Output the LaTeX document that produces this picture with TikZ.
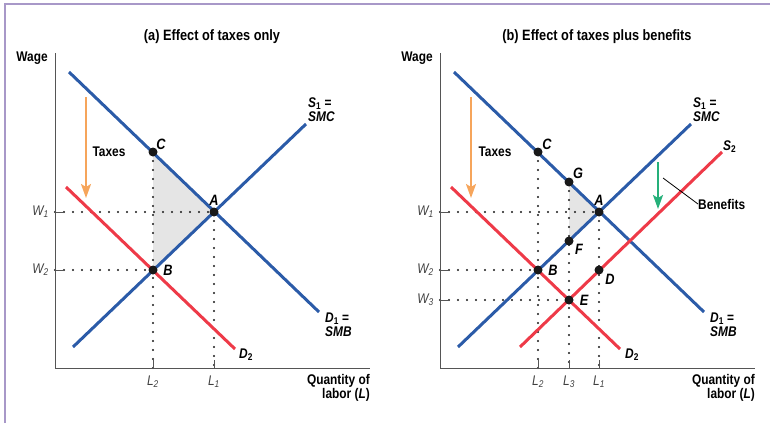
\documentclass[tikz,border=0pt]{standalone}
\usepackage{fontspec}
\setmainfont{Liberation Sans}[FakeStretch=0.85]
\usetikzlibrary{positioning, arrows.meta}
\usepackage{xcolor}

\definecolor{curveblue}{HTML}{2B5BA8}
\definecolor{curvered}{HTML}{EE3A48}
\definecolor{taxorange}{HTML}{F6A55B}
\definecolor{benefitgreen}{HTML}{25B07A}
\definecolor{framepurple}{HTML}{A898C8}
\definecolor{axisgray}{HTML}{555555}
\definecolor{shadegray}{HTML}{E5E5E5}

\begin{document}
\begin{tikzpicture}[
    x=1pt, y=-1pt,
    blueline/.style={line width=3pt, curveblue},
    redline/.style={line width=3pt, curvered},
    axis/.style={line width=1pt, axisgray},
    guide/.style={line width=2.1pt, black!90, dash pattern=on 0pt off 9pt, line cap=round},
    tick/.style={line width=0.9pt, axisgray},
    dot/.style={circle, fill=black!90, inner sep=0pt, minimum size=9pt},
    ptlabel/.style={inner sep=0pt, font=\fontsize{15}{15}\selectfont\bfseries\itshape},
    curvelabel/.style={inner sep=0pt, anchor=west, align=left, font=\fontsize{14}{14}\selectfont\bfseries},
    axlabel/.style={inner sep=0pt, font=\fontsize{14}{14}\selectfont\itshape, black!75},
    title/.style={inner sep=0pt, font=\fontsize{15}{15}\selectfont\bfseries},
    shiftarrow/.style={line width=2pt, -{Stealth[length=14pt, width=10pt, inset=3pt]}}
]
    \useasboundingbox (0,0) rectangle (770,423);
    \draw[framepurple, line width=1.2pt] (5,423) -- (5,4) -- (770,4);

    % ---------- (a) Effect of taxes only ----------
    \coordinate (aC) at (153,152);
    \coordinate (aA) at (214,212);
    \coordinate (aB) at (153,270);
    \coordinate (aYtop) at (55,53);
    \coordinate (aO) at (55,368);
    \coordinate (aXend) at (370,368);
    \coordinate (aW1) at (55,212);
    \coordinate (aW2) at (55,270);
    \coordinate (aL2) at (153,368);
    \coordinate (aL1) at (214,368);

    % Flaeche
    \fill[shadegray] (aC) -- (aA) -- (aB) -- cycle;

    % Hilfslinien
    \draw[guide] (aW1) -- (aA);
    \draw[guide] (aW2) -- (aB);
    \draw[guide] (aC) -- (aL2);
    \draw[guide] (aA) -- (aL1);
    \draw[tick] (aW1) -- ++(8,0);
    \draw[tick] (aW2) -- ++(8,0);
    \draw[tick] (aL2) -- ++(0,-8);
    \draw[tick] (aL1) -- ++(0,-8);

    % Achsen
    \draw[axis] (aYtop) -- (aO) -- (aXend);

    % Kurven
    \coordinate (aD1s) at (69,72);   \coordinate (aD1e) at (319,312);
    \coordinate (aS1s) at (73,347);  \coordinate (aS1e) at (306,124);
    \coordinate (aD2s) at (66,187);  \coordinate (aD2e) at (235,349);
    \draw[blueline] (aD1s) -- (aD1e);
    \draw[blueline] (aS1s) -- (aS1e);
    \draw[redline] (aD2s) -- (aD2e);

    % Steuern
    \coordinate (aTaxTop) at (86,97);
    \coordinate (aTaxBot) at (86,198);
    \draw[shiftarrow, taxorange] (aTaxTop) -- (aTaxBot);

    % Punkte
    \node[dot] (aCdot) at (aC) {};
    \node[dot] (aAdot) at (aA) {};
    \node[dot] (aBdot) at (aB) {};

    % Beschriftungen
    \node[title] (aTitle) at (212,37) {(a) Effect of taxes only};
    \node[curvelabel, anchor=center] (aWage) at (32,58) {Wage};
    \node[curvelabel, anchor=center] (aTaxes) at (109,152) {Taxes};
    \node[ptlabel] (aClab) at (161,144) {C};
    \node[ptlabel] (aAlab) at (214,200) {A};
    \node[ptlabel] (aBlab) at (168,270) {B};
    \node[curvelabel] (aS1lab) at (308,110) {\textit{S}\textsubscript{1} =\\\textit{SMC}};
    \node[curvelabel] (aD1lab) at (325,325) {\textit{D}\textsubscript{1} =\\\textit{SMB}};
    \node[curvelabel] (aD2lab) at (239,355) {\textit{D}\textsubscript{2}};
    \node[axlabel, left=6pt of aW1] (aW1lab) {W\textsubscript{1}};
    \node[axlabel, left=6pt of aW2] (aW2lab) {W\textsubscript{2}};
    \node[axlabel, below=8pt of aL2] (aL2lab) {L\textsubscript{2}};
    \node[axlabel, below=8pt of aL1] (aL1lab) {L\textsubscript{1}};
    \node[curvelabel, anchor=north east, align=right] (aQlab) at (370,374) {Quantity of\\labor (\textit{L})};

    % ---------- (b) Effect of taxes plus benefits ----------
    \coordinate (bC) at (538,152);
    \coordinate (bG) at (569,182);
    \coordinate (bA) at (599,212);
    \coordinate (bF) at (569,241);
    \coordinate (bB) at (538,270);
    \coordinate (bD) at (599,270);
    \coordinate (bE) at (569,300);
    \coordinate (bYtop) at (440,53);
    \coordinate (bO) at (440,368);
    \coordinate (bXend) at (755,368);
    \coordinate (bW1) at (440,212);
    \coordinate (bW2) at (440,270);
    \coordinate (bW3) at (440,300);
    \coordinate (bL2) at (538,368);
    \coordinate (bL3) at (569,368);
    \coordinate (bL1) at (599,368);

    % Flaeche
    \fill[shadegray] (bG) -- (bA) -- (bF) -- cycle;

    % Hilfslinien
    \draw[guide] (bW1) -- (bA);
    \draw[guide] (bW2) -- (bB);
    \draw[guide] (bW3) -- (bE);
    \draw[guide] (bC) -- (bL2);
    \draw[guide] (bG) -- (bL3);
    \draw[guide] (bA) -- (bL1);
    \draw[tick] (bW1) -- ++(8,0);
    \draw[tick] (bW2) -- ++(8,0);
    \draw[tick] (bW3) -- ++(8,0);
    \draw[tick] (bL2) -- ++(0,-8);
    \draw[tick] (bL3) -- ++(0,-8);
    \draw[tick] (bL1) -- ++(0,-8);

    % Achsen
    \draw[axis] (bYtop) -- (bO) -- (bXend);

    % Kurven
    \coordinate (bD1s) at (454,72);  \coordinate (bD1e) at (704,312);
    \coordinate (bS1s) at (458,347); \coordinate (bS1e) at (691,124);
    \coordinate (bD2s) at (451,187); \coordinate (bD2e) at (620,349);
    \coordinate (bS2s) at (520,347); \coordinate (bS2e) at (722,152);
    \draw[blueline] (bD1s) -- (bD1e);
    \draw[blueline] (bS1s) -- (bS1e);
    \draw[redline] (bD2s) -- (bD2e);
    \draw[redline] (bS2s) -- (bS2e);

    % Steuern und Leistungen
    \coordinate (bTaxTop) at (471,97);
    \coordinate (bTaxBot) at (471,198);
    \draw[shiftarrow, taxorange] (bTaxTop) -- (bTaxBot);
    \coordinate (bBenTop) at (658,162);
    \coordinate (bBenBot) at (658,209);
    \draw[shiftarrow, benefitgreen] (bBenTop) -- (bBenBot);

    % Punkte
    \node[dot] (bCdot) at (bC) {};
    \node[dot] (bGdot) at (bG) {};
    \node[dot] (bAdot) at (bA) {};
    \node[dot] (bFdot) at (bF) {};
    \node[dot] (bBdot) at (bB) {};
    \node[dot] (bDdot) at (bD) {};
    \node[dot] (bEdot) at (bE) {};

    % Beschriftungen
    \node[title] (bTitle) at (597,37) {(b) Effect of taxes plus benefits};
    \node[curvelabel, anchor=center] (bWage) at (417,58) {Wage};
    \node[curvelabel, anchor=center] (bTaxes) at (495,152) {Taxes};
    \node[ptlabel] (bClab) at (547,144) {C};
    \node[ptlabel] (bGlab) at (578,173) {G};
    \node[ptlabel] (bAlab) at (599,200) {A};
    \node[ptlabel] (bFlab) at (579,249) {F};
    \node[ptlabel] (bBlab) at (553,270) {B};
    \node[ptlabel] (bDlab) at (610,279) {D};
    \node[ptlabel] (bElab) at (584,300) {E};
    \node[curvelabel] (bS1lab) at (693,110) {\textit{S}\textsubscript{1} =\\\textit{SMC}};
    \node[curvelabel] (bS2lab) at (723,147) {\textit{S}\textsubscript{2}};
    \node[curvelabel] (bD1lab) at (710,325) {\textit{D}\textsubscript{1} =\\\textit{SMB}};
    \node[curvelabel] (bD2lab) at (625,355) {\textit{D}\textsubscript{2}};
    \node[curvelabel] (bBenlab) at (698,204) {Benefits};
    \coordinate (bBenLead) at (663,178);
    \draw[line width=0.8pt, black] (bBenLead) -- (bBenlab.west);
    \node[axlabel, left=6pt of bW1] (bW1lab) {W\textsubscript{1}};
    \node[axlabel, left=6pt of bW2] (bW2lab) {W\textsubscript{2}};
    \node[axlabel, left=6pt of bW3] (bW3lab) {W\textsubscript{3}};
    \node[axlabel, below=8pt of bL2] (bL2lab) {L\textsubscript{2}};
    \node[axlabel, below=8pt of bL3] (bL3lab) {L\textsubscript{3}};
    \node[axlabel, below=8pt of bL1] (bL1lab) {L\textsubscript{1}};
    \node[curvelabel, anchor=north east, align=right] (bQlab) at (755,374) {Quantity of\\labor (\textit{L})};
\end{tikzpicture}
\end{document}
